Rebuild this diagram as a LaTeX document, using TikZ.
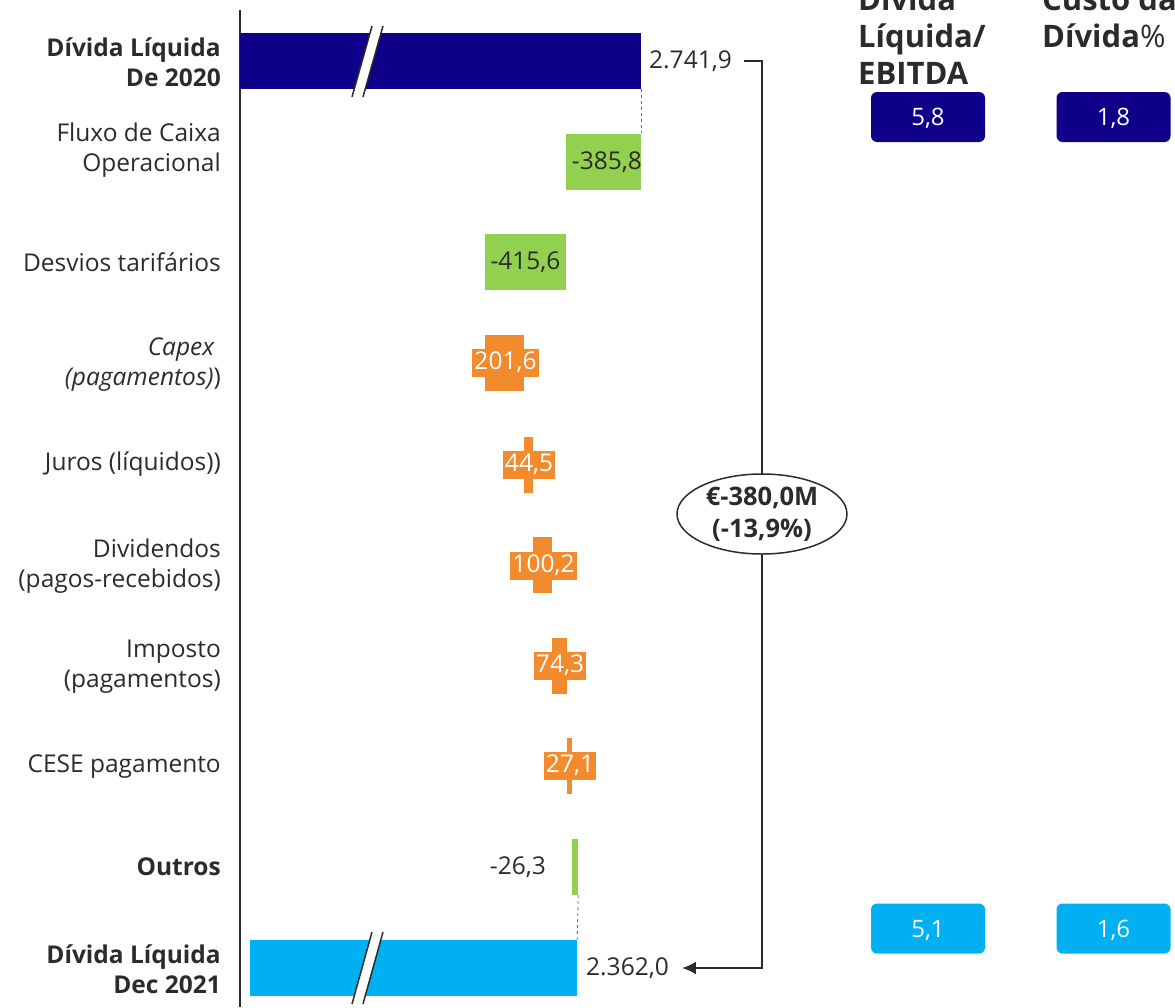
\documentclass[tikz,border=0pt]{standalone}
\usepackage{fontspec}
\setmainfont{Open Sans}
\usetikzlibrary{shapes.geometric,arrows.meta}
\definecolor{navy}{HTML}{0E0088}
\definecolor{lgreen}{HTML}{92D050}
\definecolor{orng}{HTML}{F28A2E}
\definecolor{sky}{HTML}{00B0F0}
\definecolor{txt}{HTML}{2B2B2B}
\tikzset{
  bar/.style={draw=none, inner sep=0pt, minimum height=56pt},
  rowlbl/.style={anchor=east, align=right, text=txt, font=\fontsize{24.5}{30}\selectfont, inner sep=0pt},
  vallbl/.style={text=txt, font=\fontsize{24.5}{28}\selectfont, inner sep=0pt},
  orlbl/.style={fill=orng, text=white, font=\fontsize{24.5}{28}\selectfont, inner xsep=2pt, inner ysep=0pt, minimum height=28pt, text height=17pt, text depth=4pt},
  kpi/.style={rounded corners=6pt, minimum width=114pt, minimum height=50pt, text=white, font=\fontsize{24}{26}\selectfont, inner sep=0pt, text height=17pt, text depth=0pt},
  hdr/.style={anchor=base west, align=left, text=txt, font=\fontsize{31}{37}\selectfont\bfseries, inner sep=0pt},
  brkline/.style={draw=txt, line width=1.5pt},
  conn/.style={draw=txt!70, dashed, line width=0.8pt},
}
\begin{document}
\begin{tikzpicture}[x=1pt,y=-1pt]
\useasboundingbox (0,0) rectangle (1175,1007);
% axis
\coordinate (ax1) at (240,10);
\coordinate (ax2) at (240,1007);
\draw[txt, line width=1.5pt] (ax1) -- (ax2);
% bars
\node[bar, fill=navy, minimum width=401pt] (b0) at (440.5,61) {};
\node[bar, fill=lgreen, minimum width=75pt] (b1) at (603.5,161.5) {};
\node[bar, fill=lgreen, minimum width=81pt] (b2) at (525.5,262) {};
\node[bar, fill=orng, minimum width=39pt] (b3) at (504.5,363) {};
\node[bar, fill=orng, minimum width=9pt] (b4) at (528.5,464.5) {};
\node[bar, fill=orng, minimum width=19pt] (b5) at (542.5,565) {};
\node[bar, fill=orng, minimum width=15pt] (b6) at (559.5,666) {};
\node[bar, fill=orng, minimum width=5pt] (b7) at (569.5,766) {};
\node[bar, fill=lgreen, minimum width=6pt] (b8) at (575,867) {};
\node[bar, fill=sky, minimum width=327pt] (b9) at (413.5,968) {};
% break marks
\fill[white] (352,97) -- (372,26) -- (383,26) -- (363,97) -- cycle;
\draw[brkline] (352,97) -- (372,26);
\draw[brkline] (363,97) -- (383,26);
\fill[white] (352,1004) -- (372,932) -- (383,932) -- (363,1004) -- cycle;
\draw[brkline] (352,1004) -- (372,932);
\draw[brkline] (363,1004) -- (383,932);
% dashed connectors
\draw[conn] (b0.south east) -- (b1.north east);
\draw[conn] (b8.south east) -- (b9.north east);
% value labels
\node[vallbl, anchor=west] (v0) at (649,61) {2.741,9};
\node[vallbl, anchor=east] (v1) at (642,162) {-385,8};
\node[vallbl] (v2) at (525.5,262) {-415,6};
\node[orlbl] (v3) at (505.5,363) {201,6};
\node[orlbl] (v4) at (529,464.5) {44,5};
\node[orlbl] (v5) at (543.5,565.5) {100,2};
\node[orlbl] (v6) at (560,665.5) {74,3};
\node[orlbl] (v7) at (570,766) {27,1};
\node[vallbl, anchor=east] (v8) at (546,867) {-26,3};
\node[vallbl, anchor=west] (v9) at (586,968) {2.362,0};
% bracket
\coordinate (bk1) at (762,61);
\coordinate (bk2) at (762,968);
\draw[txt, line width=2.4pt, -{Latex[length=14pt,width=13pt]}] ([xshift=12pt]v0.east) -- (bk1) -- (bk2) -- ([xshift=13pt]v9.east);
\node[ellipse, draw=txt, line width=1.5pt, fill=white, minimum width=170pt, minimum height=80pt, inner sep=0pt, align=center, text=txt, font=\fontsize{25.5}{32}\selectfont\bfseries] (ell) at (762,514) {€-380,0M\\(-13,9\%)};
% row labels
\node[rowlbl, font=\fontsize{24.5}{30}\selectfont\bfseries] (l0) at (221,62) {Dívida Líquida\\De 2020};
\node[rowlbl] (l1) at (221,150) {Fluxo de Caixa\\Operacional};
\node[rowlbl] (l2) at (221,262) {Desvios tarifários};
\node[rowlbl] (l3) at (221,365) {\textit{Capex}\kern6pt\\\textit{(pagamentos)})};
\node[rowlbl] (l4) at (221,464) {Juros (líquidos))};
\node[rowlbl] (l5) at (221,566) {Dividendos\\(pagos-recebidos)};
\node[rowlbl] (l6) at (221,667) {Imposto\\(pagamentos)};
\node[rowlbl] (l7) at (221,767) {CESE pagamento};
\node[rowlbl, font=\fontsize{24.5}{30}\selectfont\bfseries] (l8) at (221,867) {Outros};
\node[rowlbl, font=\fontsize{24.5}{30}\selectfont\bfseries] (l9) at (221,969) {Dívida Líquida\\Dec 2021};
% headers
\node[hdr] (h1) at (858,84) {Dívida\\Líquida/\\EBITDA};
\node[hdr] (h2) at (1042,47) {Custo da\\Dívida{\mdseries\%}};
% KPI boxes
\node[kpi, fill=navy] (k1) at (928,117) {5,8};
\node[kpi, fill=navy] (k2) at (1113.5,117) {1,8};
\node[kpi, fill=sky] (k3) at (928,928.5) {5,1};
\node[kpi, fill=sky] (k4) at (1113.5,928.5) {1,6};
\end{tikzpicture}
\end{document}
